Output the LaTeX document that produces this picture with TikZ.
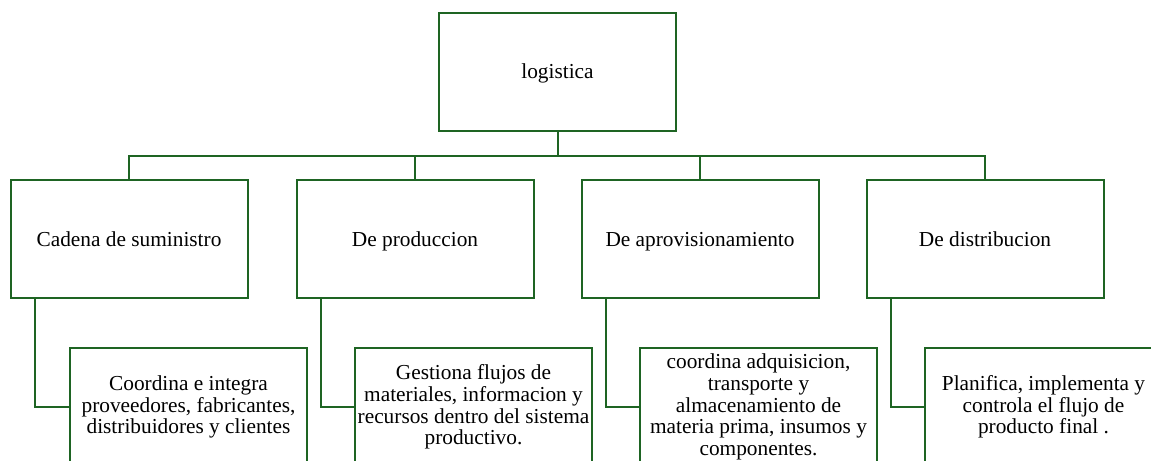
\documentclass[tikz,border=0pt]{standalone}
\usepackage{fontspec}
\setmainfont{Liberation Serif}
\usetikzlibrary{positioning, calc}
\definecolor{verde}{RGB}{30,100,35}

\tikzset{
  cuadro/.style={draw=verde, line width=1.5pt, minimum width=177.75pt, minimum height=88.5pt, inner sep=0pt, align=center, font=\fontsize{16}{16.3}\selectfont},
  titulo/.style={cuadro, text height=11pt, text depth=0.5pt},
  linea/.style={draw=verde, line width=1.5pt}
}

\begin{document}
\begin{tikzpicture}[x=0.75pt, y=-0.75pt]
        \useasboundingbox (0, 0) rectangle (1151, 460);
        \clip (0, 0) rectangle (1151, 460);

        \node[titulo] (top) at (557.5, 72) {logistica};

        \node[titulo] (c1) at (129, 239) {Cadena de suministro};
        \node[titulo] (c2) at (415, 239) {De produccion};
        \node[titulo] (c3) at (700, 239) {De aprovisionamiento};
        \node[titulo] (c4) at (985, 239) {De distribucion};

        \node[cuadro] (d1) at (188.5, 407) {Coordina e integra\\proveedores, fabricantes,\\distribuidores y clientes};
        \node[cuadro] (d2) at (473.5, 407) {Gestiona flujos de\\materiales, informacion y\\recursos dentro del sistema\\productivo.};
        \node[cuadro] (d3) at (758.5, 407) {coordina adquisicion,\\transporte y\\almacenamiento de\\materia prima, insumos y\\componentes.};
        \node[cuadro] (d4) at (1043.5, 407) {Planifica, implementa y\\controla el flujo de\\producto final .};

        % bus
        \foreach \n in {c1, c2, c3, c4}
          \draw[linea] (top.south) -- ++(0, 24) -| (\n.north);

        % ramas
        \foreach \a/\b in {c1/d1, c2/d2, c3/d3, c4/d4}
          \draw[linea] ([xshift=18.75pt]\a.south west) |- (\b.west);

      \end{tikzpicture}
\end{document}
